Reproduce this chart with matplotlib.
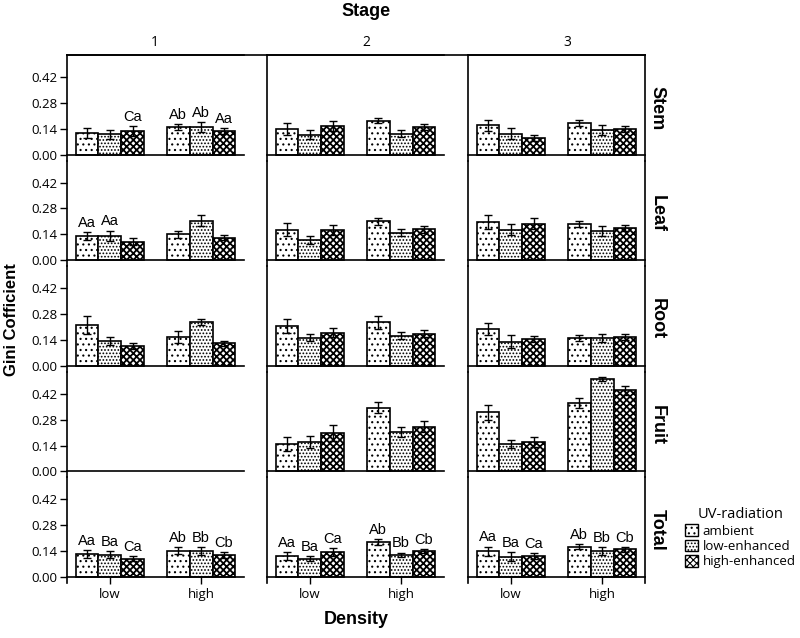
import matplotlib.pyplot as plt
import matplotlib.lines as mlines
from matplotlib.patches import Patch
import numpy as np

stages = ["1", "2", "3"]
organs = ["Stem", "Leaf", "Root", "Fruit", "Total"]
density = ["low", "high"]
treatments = ["ambient", "low-enhanced", "high-enhanced"]

# per stage: [low-amb, low-lowenh, low-highenh, high-amb, high-lowenh, high-highenh]
stem_mean = [[0.116, 0.110, 0.128, 0.149, 0.149, 0.128],
             [0.137, 0.107, 0.154, 0.184, 0.114, 0.149],
             [0.159, 0.114, 0.089, 0.170, 0.135, 0.138]]
stem_err = [[0.027, 0.025, 0.025, 0.018, 0.026, 0.017],
            [0.032, 0.024, 0.026, 0.015, 0.017, 0.017],
            [0.031, 0.031, 0.015, 0.016, 0.028, 0.015]]
leaf_mean = [[0.131, 0.133, 0.100, 0.140, 0.215, 0.123],
             [0.166, 0.110, 0.163, 0.210, 0.149, 0.168],
             [0.207, 0.166, 0.198, 0.196, 0.158, 0.175]]
leaf_err = [[0.023, 0.028, 0.018, 0.018, 0.032, 0.016],
            [0.035, 0.023, 0.026, 0.018, 0.018, 0.019],
            [0.036, 0.028, 0.030, 0.018, 0.025, 0.018]]
root_mean = [[0.219, 0.135, 0.109, 0.154, 0.236, 0.123],
             [0.215, 0.152, 0.180, 0.236, 0.163, 0.175],
             [0.198, 0.131, 0.144, 0.152, 0.149, 0.158]]
root_err = [[0.049, 0.022, 0.017, 0.032, 0.016, 0.014],
            [0.039, 0.020, 0.026, 0.035, 0.018, 0.018],
            [0.032, 0.035, 0.016, 0.015, 0.022, 0.016]]
fruit_mean = [None,
              [0.149, 0.161, 0.207, 0.345, 0.215, 0.242],
              [0.319, 0.149, 0.158, 0.371, 0.499, 0.438]]
fruit_err = [None,
             [0.040, 0.033, 0.043, 0.031, 0.026, 0.031],
             [0.042, 0.022, 0.026, 0.028, 0.012, 0.025]]
total_mean = [[0.125, 0.122, 0.100, 0.143, 0.140, 0.120],
              [0.115, 0.100, 0.135, 0.190, 0.120, 0.140],
              [0.140, 0.110, 0.115, 0.165, 0.140, 0.150]]
total_err = [[0.020, 0.020, 0.015, 0.020, 0.020, 0.015],
             [0.020, 0.015, 0.020, 0.015, 0.012, 0.012],
             [0.025, 0.025, 0.015, 0.012, 0.020, 0.012]]

blank = ["", "", "", "", "", ""]
stem_letters = [["", "", "Ca", "Ab", "Ab", "Aa"], blank, blank]
leaf_letters = [["Aa", "Aa", "", "", "", ""], blank, blank]
root_letters = [blank, blank, blank]
fruit_letters = [blank, blank, blank]
total_letters = [["Aa", "Ba", "Ca", "Ab", "Bb", "Cb"]] * 3

means = [stem_mean, leaf_mean, root_mean, fruit_mean, total_mean]
errs = [stem_err, leaf_err, root_err, fruit_err, total_err]
letters = [stem_letters, leaf_letters, root_letters, fruit_letters, total_letters]

hatches = ["...", ".....", "xxxxx"]
hatch_lw = [0.8, 0.8, 1.3]
plt.rcParams['hatch.linewidth'] = 0.8

W, H = 800, 638
top = 55
rowh = 105.6
colw = 177
col_left = [67, 267, 468]

fig = plt.figure(figsize=(8, 6.38), dpi=100)
x = np.arange(2)
bw = 0.25


def set_hlw(patch, lw):
    if hasattr(patch, 'set_hatch_linewidth'):
        patch.set_hatch_linewidth(lw)


for r in range(5):
    for c in range(3):
        ax = fig.add_axes([col_left[c] / W, 1 - (top + rowh * (r + 1)) / H, colw / W, rowh / H])
        ax.set_xlim(-0.47, 1.47)
        ax.set_ylim(-0.032, 0.539)
        ax.patch.set_alpha(0)
        for s in ax.spines.values():
            s.set_linewidth(1.2)
        ax.spines['bottom'].set_position(('data', 0))
        ax.spines['top'].set_visible(r == 0)
        ax.spines['right'].set_visible(c == 2)
        mean = means[r][c]
        err = errs[r][c]
        if mean is not None:
            for t in range(3):
                vals = [mean[t], mean[3 + t]]
                ev = [err[t], err[3 + t]]
                xs = x + (t - 1) * bw
                bars = ax.bar(xs, vals, bw, yerr=ev, facecolor='white', edgecolor='black',
                              hatch=hatches[t], linewidth=1.2,
                              error_kw=dict(ecolor='black', elinewidth=1, capsize=3, capthick=1))
                for p in bars:
                    set_hlw(p, hatch_lw[t])
                labs = [letters[r][c][t], letters[r][c][3 + t]]
                for xi, v, e, lab in zip(xs, vals, ev, labs):
                    if lab:
                        ax.text(xi, v + e + 0.012, lab, ha='center', va='bottom',
                                fontsize=10.5, family='Liberation Sans')
        if c == 0:
            ax.set_yticks([0, 0.14, 0.28, 0.42])
            ax.set_yticklabels(["0.00", "0.14", "0.28", "0.42"], family='Open Sans')
            ax.tick_params(axis='y', direction='out', length=5, width=1, labelsize=9.5, pad=2)
        else:
            ax.set_yticks([])
        if r == 4:
            ax.set_xticks(x)
            ax.set_xticklabels(density, family='Open Sans')
            ax.tick_params(axis='x', direction='out', length=5, width=1, labelsize=9.5, pad=3)
        else:
            ax.set_xticks([])

# top frame line across the gaps
fig.add_artist(mlines.Line2D([67 / W, 645 / W], [1 - top / H] * 2, color='black', lw=1.2))

col_mid = [155, 366, 567]
for c in range(3):
    fig.text(col_mid[c] / W, 1 - 42 / H, stages[c], ha='center', va='center',
             fontsize=10, family='Open Sans')
for r in range(5):
    fig.text(657 / W, 1 - (top + rowh * (r + 0.5)) / H, organs[r], rotation=-90,
             ha='center', va='center', fontsize=13, fontweight='bold', family='Liberation Sans')

fig.text(366 / W, 1 - 12 / H, "Stage", ha='center', va='center', fontsize=13,
         fontweight='bold', family='Liberation Sans')
fig.text(356 / W, 1 - 620 / H, "Density", ha='center', va='center', fontsize=13,
         fontweight='bold', family='Liberation Sans')
fig.text(12 / W, 1 - 320 / H, "Gini Cofficient", rotation=90, ha='center', va='center',
         fontsize=12, fontweight='bold', family='Liberation Sans')

handles = [Patch(facecolor='white', edgecolor='black', hatch=h, label=lab)
           for h, lab in zip(hatches, treatments)]
for p, lw in zip(handles, hatch_lw):
    set_hlw(p, lw)
fig.legend(handles=handles, loc='upper left', bbox_to_anchor=(676 / W, 1 - 498 / H),
           frameon=False, title="UV-radiation", prop={'family': 'Open Sans', 'size': 9.5},
           title_fontproperties={'family': 'Open Sans', 'size': 10.5},
           handlelength=1.0, handleheight=1.0, handletextpad=0.3, labelspacing=0.15,
           borderpad=0.2)

fig.savefig("out.png", dpi=100)
